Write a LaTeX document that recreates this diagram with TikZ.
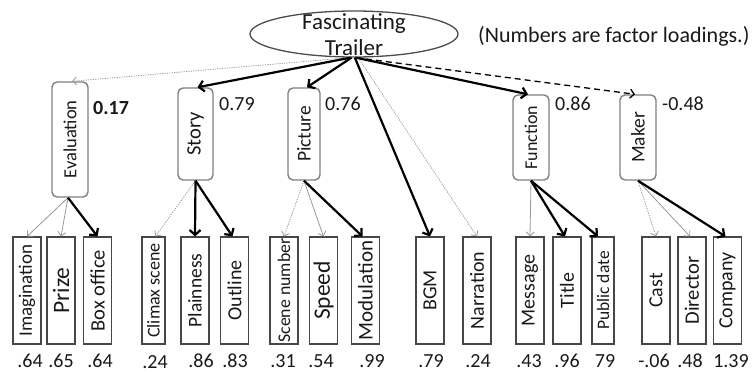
\documentclass[tikz,border=0pt]{standalone}
\usepackage{fontspec}
\setmainfont{Carlito}
\usetikzlibrary{arrows.meta,shapes.geometric}
\newcommand{\rotlab}[1]{\rotatebox{90}{#1}}
\begin{document}
\begin{tikzpicture}[x=1pt,y=-1pt,
  fnt/.style={font=\fontsize{#1}{#1}\selectfont},
  leaf/.style={draw=black!72, line width=1.1pt, inner sep=0pt, minimum height=107pt, minimum width=28pt, text=black!90, fnt=20},
  factor/.style={draw=black!50, line width=1.4pt, rounded corners=5pt, inner sep=0pt, text=black!90, fnt=19},
  load/.style={anchor=west, inner sep=0pt, text=black!90, fnt=20},
  val/.style={anchor=base, inner sep=0pt, text=black!90, fnt=20},
  thickarr/.style={draw=black, line width=2.2pt, -{Straight Barb[length=5pt,width=11pt]}},
  thinarr/.style={draw=black!40, line width=0.8pt, -{Straight Barb[length=4pt,width=8pt]}},
  dotarr/.style={thinarr, dash pattern=on 1.2pt off 1.2pt},
  dasharr/.style={draw=black, line width=1.3pt, dash pattern=on 6pt off 4pt, -{Straight Barb[length=4pt,width=9pt]}},
]
\useasboundingbox (0,0) rectangle (753,372);

% top latent
\node[draw=black!70, line width=1.3pt, ellipse, minimum width=208pt, minimum height=46pt, inner sep=0pt] (top) at (354,34) {};
\node[align=center, inner sep=0pt, text=black!90, font=\fontsize{23}{26}\selectfont] (toplab) at (354,35) {Fascinating\\Trailer};
\node[anchor=west, inner sep=0pt, text=black!90, fnt=22] (note) at (478,36) {(Numbers are factor loadings.)};

% factors
\node[factor, minimum width=36pt, minimum height=115pt, fnt=18.5] (eval) at (70,139.5) {\rotlab{Evaluation}};
\node[factor, minimum width=35pt, minimum height=92pt, fnt=20.5] (story) at (195.5,134) {\rotlab{Story}};
\node[factor, minimum width=32pt, minimum height=92pt, fnt=19.5] (pict) at (304,134) {\rotlab{Picture}};
\node[factor, minimum width=36pt, minimum height=85pt, fnt=18] (func) at (531,137.5) {\rotlab{Function}};
\node[factor, minimum width=36pt, minimum height=85pt, fnt=19.5] (maker) at (638,137.5) {\rotlab{Maker}};

% loadings
\node[load, font=\fontsize{20}{20}\selectfont\bfseries] (l1) at (93,108) {0.17};
\node[load] (l2) at (219,104) {0.79};
\node[load] (l3) at (325,104) {0.76};
\node[load] (l4) at (555,104) {0.86};
\node[load] (l5) at (662,104) {-0.48};

% leaves
\node[leaf, fnt=19] (imag) at (27,290.5) {\rotlab{Imagination}};
\node[leaf, fnt=23.5] (prize) at (61,290.5) {\rotlab{Prize}};
\node[leaf, fnt=20.5] (box) at (97.5,290.5) {\rotlab{Box office}};
\node[leaf, minimum width=23pt, fnt=18] (climax) at (153.5,290.5) {\rotlab{Climax scene}};
\node[leaf, fnt=19.5] (plain) at (195,290.5) {\rotlab{Plainness}};
\node[leaf] (outline) at (234.5,290.5) {\rotlab{Outline}};
\node[leaf, fnt=17.8] (scene) at (284,290.5) {\rotlab{Scene number}};
\node[leaf, fnt=23.5] (speed) at (323.5,290.5) {\rotlab{Speed}};
\node[leaf, fnt=21] (modu) at (365.5,290.5) {\rotlab{Modulation}};
\node[leaf] (bgm) at (430,290.5) {\rotlab{BGM}};
\node[leaf] (narr) at (477,290.5) {\rotlab{Narration}};
\node[leaf] (msg) at (530,290.5) {\rotlab{Message}};
\node[leaf] (title) at (567,290.5) {\rotlab{Title}};
\node[leaf, minimum width=22pt, fnt=17.5] (pub) at (603,290.5) {\rotlab{Public date}};
\node[leaf] (cast) at (656,290.5) {\rotlab{Cast}};
\node[leaf, fnt=20.5] (dir) at (692,290.5) {\rotlab{Director}};
\node[leaf] (comp) at (727.5,290.5) {\rotlab{Company}};

% bottom values
\node[val] (v1) at (30,367) {.64};
\node[val] (v2) at (61,367) {.65};
\node[val] (v3) at (100,367) {.64};
\node[val] (v4) at (155,368) {.24};
\node[val] (v5) at (201,367) {.86};
\node[val] (v6) at (235,367) {.83};
\node[val] (v7) at (283,367) {.31};
\node[val] (v8) at (321,367) {.54};
\node[val] (v9) at (372,367) {.99};
\node[val] (v10) at (431,367) {.79};
\node[val] (v11) at (478,367) {.24};
\node[val] (v12) at (529,367) {.43};
\node[val] (v13) at (567,367) {.96};
\node[val] (v14) at (605,367) {79};
\node[val] (v15) at (654,367) {-.06};
\node[val] (v16) at (690,367) {.48};
\node[val] (v17) at (731,367) {1.39};

% top level arrows
\draw[dotarr] (top.-100) -- ([xshift=2pt]eval.north);
\draw[thickarr] (top.-98) -- ([xshift=2pt]story.north);
\draw[thickarr] (top.-96) -- ([xshift=3pt]pict.north);
\draw[thickarr] (top.-88) -- (bgm.north);
\draw[dotarr] (top.-80) -- (narr.north);
\draw[thickarr] (top.-86) -- ([xshift=-3pt]func.north);
\draw[dasharr] (top.-85) -- ([xshift=-3pt]maker.north);

% factor to indicator arrows
\draw[thinarr] ([xshift=-2pt]eval.south) -- (imag.north);
\draw[thinarr] ([xshift=-2pt]eval.south) -- (prize.north);
\draw[thickarr] ([xshift=-2pt]eval.south) -- (box.north);
\draw[dotarr] (story.south) -- ([xshift=2pt]climax.north);
\draw[thickarr] (story.south) -- (plain.north);
\draw[thickarr] (story.south) -- ([xshift=-2pt]outline.north);
\draw[dotarr] (pict.south) -- (scene.north);
\draw[thinarr] (pict.south) -- (speed.north);
\draw[thickarr] (pict.south) -- ([xshift=-3pt]modu.north);
\draw[thinarr] (func.south) -- (msg.north);
\draw[thickarr] (func.south) -- ([xshift=-2pt]title.north);
\draw[thickarr] (func.south) -- ([xshift=-5pt]pub.north);
\draw[dotarr] (maker.south) -- (cast.north);
\draw[thinarr] (maker.south) -- ([xshift=-2pt]dir.north);
\draw[thickarr] (maker.south) -- ([xshift=-2pt]comp.north);
\end{tikzpicture}
\end{document}
